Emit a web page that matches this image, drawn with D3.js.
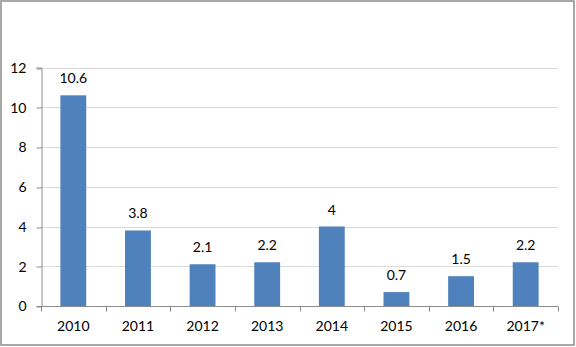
<!DOCTYPE html>
<html><head><meta charset="utf-8">
<script src="https://cdn.jsdelivr.net/npm/d3@7"></script>
<style>body{margin:0;background:#fff}svg{display:block}text{font-family:Lato,"Open Sans",sans-serif;fill:#000}</style>
</head><body>
<svg id="c" width="576" height="347"></svg>
<script>
const categories = ["2010","2011","2012","2013","2014","2015","2016","2017*"];
const values = [10.6, 3.8, 2.1, 2.2, 4, 0.7, 1.5, 2.2];
const labels = ["10.6","3.8","2.1","2.2","4","0.7","1.5","2.2"];
const yTicks = [0,2,4,6,8,10,12];

const svg = d3.select("#c");
svg.append("rect").attr("x",1).attr("y",1).attr("width",573).attr("height",344)
  .attr("fill","#fff").attr("stroke","#8c8c8c").attr("stroke-width",1.5);

const x = d3.scaleBand().domain(categories).range([41,558]).paddingInner(0.6).paddingOuter(0.3);
const y = d3.scaleLinear().domain([0,12]).range([306,67.5]);

// gridlines
svg.append("g").selectAll("line").data(yTicks.filter(d=>d>0)).join("line")
  .attr("x1",41).attr("x2",558).attr("y1",d=>Math.round(y(d))+0.5).attr("y2",d=>Math.round(y(d))+0.5)
  .attr("stroke","#d9d9d9").attr("stroke-width",1);

// y axis
const yAxis = svg.append("g").attr("transform","translate(41.5,0)")
  .call(d3.axisLeft(y).tickValues(yTicks).tickSize(5).tickPadding(10).tickFormat(d3.format("d")));
yAxis.selectAll("line").attr("stroke","#8c8c8c").attr("transform",function(d){return "translate(0,"+(Math.round(y(d))+0.5-y(d))+")";});
yAxis.select(".domain").attr("stroke","#8c8c8c");
yAxis.selectAll("text").attr("font-size",14).attr("font-family","Lato").attr("dy","0.35em");

// bars
svg.append("g").selectAll("rect").data(values).join("rect")
  .attr("x",(d,i)=>x(categories[i])).attr("width",x.bandwidth())
  .attr("y",d=>y(d)).attr("height",d=>y(0)-y(d)).attr("fill","#4f81bd");

// x axis
const xAxis = svg.append("g").attr("transform","translate(0,306.5)")
  .call(d3.axisBottom(x).tickSize(0).tickPadding(15));
xAxis.select(".domain").remove();
xAxis.append("line").attr("x1",41).attr("x2",558).attr("y1",0).attr("y2",0).attr("stroke","#8c8c8c");
const step = x.step();
const bounds = d3.range(categories.length+1).map(i=>41+i*step);
xAxis.selectAll(".tk").data(bounds).join("line").attr("class","tk")
  .attr("x1",d=>Math.round(d)+0.5).attr("x2",d=>Math.round(d)+0.5).attr("y1",0).attr("y2",5).attr("stroke","#8c8c8c");
xAxis.selectAll("text").attr("font-size",14).attr("font-family","Lato");

// data labels
svg.append("g").selectAll("text").data(values).join("text")
  .attr("x",(d,i)=>x(categories[i])+x.bandwidth()/2).attr("y",d=>y(d)-12)
  .attr("text-anchor","middle").attr("font-size",14).text((d,i)=>labels[i]);
</script>
</body></html>
